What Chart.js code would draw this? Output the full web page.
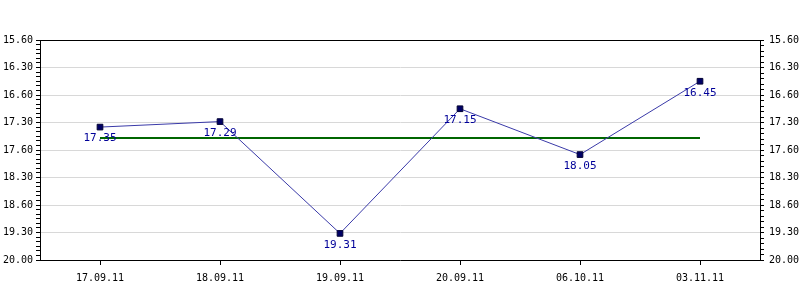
<!DOCTYPE html>
<html>
<head>
<meta charset="utf-8">
<script src="https://cdn.jsdelivr.net/npm/chart.js@4/dist/chart.umd.min.js"></script>
<style>
	html, body { margin: 0; padding: 0; background: #fff; }
	#wrap { width: 800px; height: 300px; }
</style>
</head>
<body>
<div id="wrap"><canvas id="chart"></canvas></div>
<script>
// values are lap times written as minutes.seconds
var dates = ["17.09.11", "18.09.11", "19.09.11", "20.09.11", "06.10.11", "03.11.11"];
var times = ["17.35", "17.29", "19.31", "17.15", "18.05", "16.45"];
var averageTimes = ["17.47", "17.47", "17.47", "17.47", "17.47", "17.47"];
var yTickLabels = ["15.60", "16.30", "16.60", "17.30", "17.60", "18.30", "18.60", "19.30", "20.00"];
var yMin = 960, yMax = 1200, yMajorStep = 30;

function toSeconds(t) {
	var parts = t.split(".");
	return parseInt(parts[0], 10) * 60 + parseInt(parts[1], 10);
}

function tickLabel(value) {
	if ((value - yMin) % yMajorStep !== 0) return "";
	return yTickLabels[(value - yMin) / yMajorStep];
}

var monoFont = { family: "'DejaVu Sans Mono', monospace", size: 10 };

// top edge of the frame + value labels under the points
var frameBox = {
	id: "frameBox",
	afterDatasetsDraw: function (chart) {
		var a = chart.chartArea, c = chart.ctx;
		c.save();
		c.strokeStyle = "#000";
		c.lineWidth = 1;
		c.beginPath();
		c.moveTo(a.left, Math.round(a.top) + 0.5);
		c.lineTo(a.right, Math.round(a.top) + 0.5);
		c.stroke();

		var meta = chart.getDatasetMeta(0);
		c.fillStyle = "#000099";
		c.font = "11px 'DejaVu Sans Mono', monospace";
		c.textAlign = "center";
		c.textBaseline = "top";
		meta.data.forEach(function (pt, i) {
			c.fillText(times[i], pt.x, pt.y + 6);
		});
		c.restore();
	}
};

var ctx = document.getElementById("chart");

var chart = new Chart(ctx, {
	type: "line",
	data: {
		labels: dates,
		datasets: [
			{
				label: "time",
				data: times.map(toSeconds),
				borderColor: "#3a3aa8",
				borderWidth: 1,
				pointStyle: "rect",
				pointRadius: 4,
				pointBackgroundColor: "#000066",
				pointBorderColor: "#000033",
				pointBorderWidth: 1,
				tension: 0,
				yAxisID: "y"
			},
			{
				label: "average",
				data: averageTimes.map(toSeconds),
				borderColor: "#006600",
				borderWidth: 2,
				pointRadius: 0,
				tension: 0,
				yAxisID: "y"
			}
		]
	},
	options: {
		responsive: true,
		maintainAspectRatio: false,
		animation: false,
		layout: { padding: { top: 40, left: 0, right: 0, bottom: 0 } },
		plugins: {
			legend: { display: false },
			tooltip: { enabled: false }
		},
		scales: {
			x: {
				offset: true,
				grid: { drawOnChartArea: false, tickColor: "#000", tickLength: 5, offset: false },
				border: { color: "#000" },
				ticks: { color: "#000", font: monoFont, padding: 7, maxRotation: 0 },
				afterFit: function (s) { s.height = 40; }
			},
			y: {
				position: "left",
				reverse: true,
				min: yMin,
				max: yMax,
				grid: {
					color: function (c) { return (c.tick && (c.tick.value - yMin) % yMajorStep === 0) ? "#d8d8d8" : "rgba(0,0,0,0)"; },
					tickColor: "#000",
					tickLength: 4
				},
				border: { color: "#000" },
				ticks: { stepSize: 5, autoSkip: false, color: "#000", font: monoFont, padding: 3, callback: tickLabel },
				afterFit: function (s) { s.width = 40; }
			},
			y2: {
				position: "right",
				reverse: true,
				min: yMin,
				max: yMax,
				grid: { drawOnChartArea: false, tickColor: "#000", tickLength: 4 },
				border: { color: "#000" },
				ticks: { stepSize: 6, autoSkip: false, color: "#000", font: monoFont, padding: 5, callback: tickLabel },
				afterFit: function (s) { s.width = 40; }
			}
		}
	},
	plugins: [frameBox]
});
</script>
</body>
</html>
